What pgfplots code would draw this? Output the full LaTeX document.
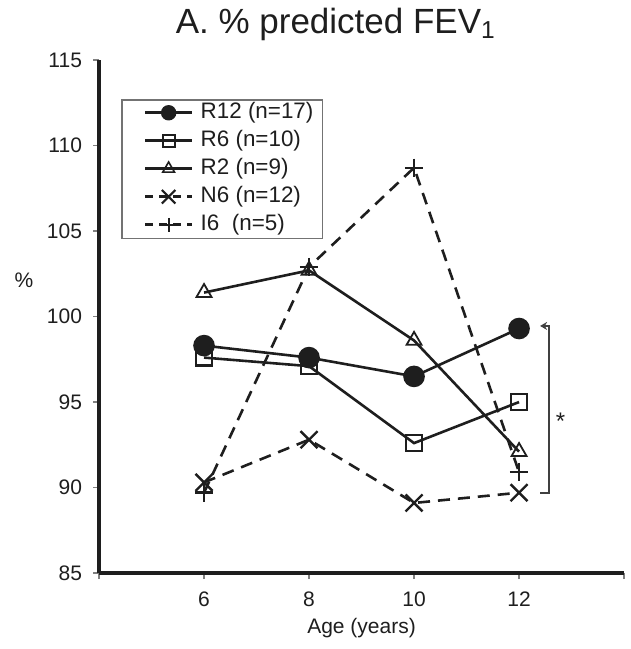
\documentclass[border=0pt]{standalone}
\usepackage{fontspec}
\setmainfont{Liberation Sans}
\usepackage{pgfplots}
\pgfplotsset{compat=1.18}
\usetikzlibrary{arrows.meta}
\definecolor{ink}{HTML}{1E1E1E}
\newcommand{\legimg}[2]{\path (-6.5pt,0pt); \draw[line width=1.6pt, ink, #1] (0pt,0.2pt) -- (23.5pt,0.2pt); \draw[solid, ink] plot[#2] coordinates {(11.75pt,0.2pt)};}
\begin{document}
\begin{tikzpicture}
\begin{axis}[
  scale only axis,
  width=262.5pt, height=256.5pt,
  xmin=4, xmax=14, ymin=85, ymax=115,
  xtick={4,6,8,10,12,14},
  xticklabels={{},6,8,10,12,{}},
  ytick={85,90,...,115},
  axis x line*=bottom, axis y line*=left,
  axis line style={line width=1.6pt, ink, -},
  tick align=outside,
  major tick length=3pt,
  tick style={gray, line width=0.6pt},
  /pgf/number format/assume math mode=true,
  ticklabel style={font=\fontsize{10.5}{12}\selectfont, text=ink},
  xticklabel style={yshift=-3pt},
  yticklabel style={xshift=-2pt},
  xlabel={Age (years)},
  xlabel style={font=\fontsize{10.5}{12}\selectfont, text=ink, yshift=1pt},
  ylabel={\%},
  ylabel style={font=\fontsize{10.5}{12}\selectfont, text=ink, rotate=-90, at={(axis description cs:-0.143,0.571)}, anchor=center},
  title={A. \% predicted FEV\textsubscript{1}},
  title style={font=\fontsize{17.5}{20}\selectfont, text=ink, at={(axis description cs:0.451,1.029)}, anchor=base},
  clip=false,
  legend style={at={(axis cs:4.42,112.72)}, anchor=north west, draw=gray!90!black, line width=0.75pt,
    font=\fontsize{11.2}{12}\selectfont, text=ink, inner xsep=4.5pt, inner ysep=1.6pt,
    nodes={inner sep=0pt, text height=7.8pt, text depth=2.4pt},
    row sep=3.8pt, column sep=3.5pt,
    legend cell align=left},
  every axis plot/.append style={line width=1.3pt, ink},
]
\addplot[mark=*, mark size=4.75pt, mark options={solid, fill=ink},
  legend image code/.code={\legimg{}{mark=*, mark size=3.2pt, mark options={fill=ink}}}]
  coordinates {(6,98.3) (8,97.6) (10,96.5) (12,99.3)};
\addlegendentry{R12 (n=17)}
\addplot[mark=square, mark size=4pt, mark options={solid, fill=white, line width=1.1pt},
  legend image code/.code={\legimg{}{mark=square, mark size=3pt, mark options={fill=white, line width=1pt}}}]
  coordinates {(6,97.6) (8,97.1) (10,92.6) (12,95.0)};
\addlegendentry{R6 (n=10)}
\addplot[mark=triangle, mark size=4.3pt, mark options={solid, fill=white, line width=0.9pt},
  legend image code/.code={\legimg{}{mark=triangle, mark size=3.4pt, mark options={fill=white, line width=0.8pt}}}]
  coordinates {(6,101.4) (8,102.7) (10,98.6) (12,92.1)};
\addlegendentry{R2 (n=9)}
\addplot[dash pattern=on 6pt off 4pt, mark=x, mark size=6pt, mark options={solid, line width=1.2pt},
  legend image code/.code={\legimg{dash pattern=on 4pt off 3pt}{mark=x, mark size=4.8pt, mark options={line width=1.1pt}}}]
  coordinates {(6,90.3) (8,92.8) (10,89.1) (12,89.7)};
\addlegendentry{N6 (n=12)}
\addplot[dash pattern=on 6pt off 4pt, mark=+, mark size=4.6pt, mark options={solid, line width=1.2pt},
  legend image code/.code={\legimg{dash pattern=on 4pt off 3pt}{mark=+, mark size=3.5pt, mark options={line width=1.1pt}}}]
  coordinates {(6,89.7) (8,102.9) (10,108.7) (12,90.9)};
\addlegendentry{I6\ \ (n=5)}
\draw[line width=0.9pt, gray!50!black, {Stealth[length=3.5pt,width=4pt]}-] (axis cs:12.40,99.45) -- (axis cs:12.57,99.45) -- (axis cs:12.57,89.7) -- (axis cs:12.39,89.7);
\node[font=\fontsize{12}{13}\selectfont, text=ink] at (axis cs:12.79,93.9) {*};
\path (rel axis cs:-0.1886,-0.148) (rel axis cs:1.0038,1.117);
\end{axis}
\end{tikzpicture}
\end{document}
